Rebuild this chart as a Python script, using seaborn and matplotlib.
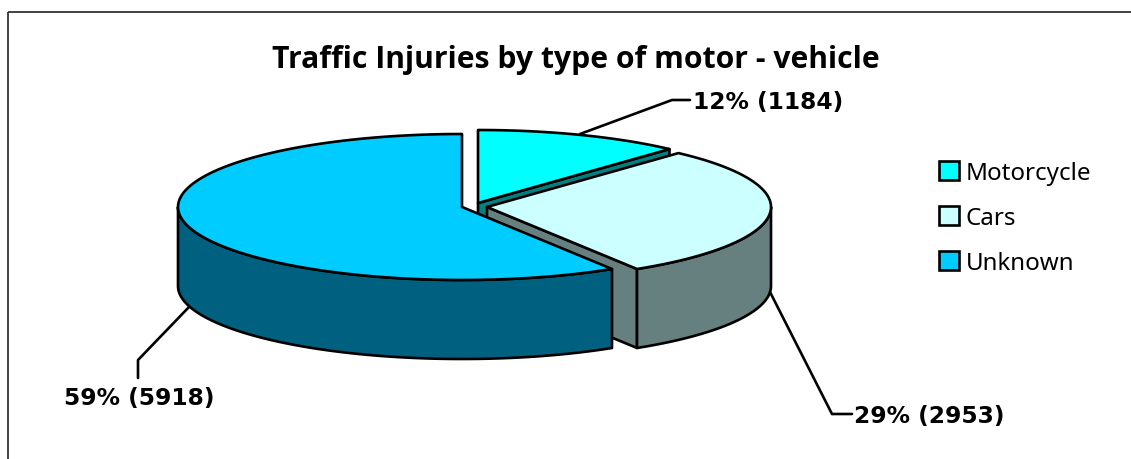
import numpy as np
import matplotlib
matplotlib.use('Agg')
import matplotlib.pyplot as plt
from matplotlib.patches import Patch, Polygon, Rectangle
import seaborn as sns

categories = ['Motorcycle', 'Cars', 'Unknown']
counts = [1184, 2953, 5918]
percent_labels = ['12%', '29%', '59%']

top_colors = ['#00FFFF', '#CCFFFF', '#00CCFF']
side_colors = ['#008080', '#668080', '#006080']

RX, RY, DEPTH = 284, 73, 79
# exploded slice centres, in pixels
centers = [(478, 204), (487, 208), (462, 208)]


def ellipse_pts(cx, cy, a1, a2, n=120):
    t = np.radians(np.linspace(a1, a2, n))
    return np.column_stack([cx + RX * np.cos(t), cy - RY * np.sin(t)])


def draw_slice(ax, center, a1, a2, top, side):
    """a1 > a2, going clockwise on the pie."""
    cx, cy = center
    edge = dict(edgecolor='black', linewidth=1.9, joinstyle='round')
    # flat cut face at the clockwise end
    end = ellipse_pts(cx, cy, a2, a2, 1)[0]
    face = [(cx, cy), tuple(end), (end[0], end[1] + DEPTH), (cx, cy + DEPTH)]
    if np.cos(np.radians(a2)) > 0 and np.sin(np.radians(a2)) != 0:
        ax.add_patch(Polygon(face, closed=True, facecolor=side, **edge))
    # outer wall, only the part facing the viewer
    lo, hi = min(a1, a2), max(a1, a2)
    for shift in (-360, 0):
        w1, w2 = max(lo, 180 + shift), min(hi, 360 + shift)
        if w2 > w1:
            rim = ellipse_pts(cx, cy, w1, w2)
            wall = np.vstack([rim, rim[::-1] + [0, DEPTH]])
            ax.add_patch(Polygon(wall, closed=True, facecolor=side, **edge))
    arc = ellipse_pts(cx, cy, a1, a2)
    ax.add_patch(Polygon(np.vstack([[cx, cy], arc]), closed=True, facecolor=top, **edge))


sns.set_theme(style='white')
plt.rcParams['font.family'] = ['DejaVu Sans']
plt.rcParams['legend.labelcolor'] = 'black'

fig = plt.figure(figsize=(11.31, 4.6), dpi=100)
ax = fig.add_axes([0, 0, 1, 1])
ax.set_xlim(0, 1131)
ax.set_ylim(460, 0)
ax.axis('off')

# chart border runs off the right and bottom of the image
ax.add_patch(Rectangle((8, 12.5), 1200, 500, fill=False, edgecolor='#333333', linewidth=1.3))

shares = np.array(counts) / sum(counts)
angles = 90 - np.concatenate([[0], np.cumsum(shares)]) * 360
for i in range(len(counts)):
    draw_slice(ax, centers[i], angles[i], angles[i + 1], top_colors[i], side_colors[i])

ax.text(576, 60, 'Traffic Injuries by type of motor - vehicle', ha='center', va='center',
        fontsize=21.7, fontweight='bold', family='Open Sans', color='black')

# leader lines and data labels
leaders = [[(580, 135), (672, 101), (690, 101)],
           [(770, 293), (832, 415), (852, 415)],
           [(189, 308), (138, 361), (138, 379)]]
label_pos = [(693, 102, 'left'), (854, 417, 'left'), (64, 399, 'left')]
for i in range(len(counts)):
    xs, ys = zip(*leaders[i])
    ax.plot(xs, ys, color='black', linewidth=1.9)
    x, y, ha = label_pos[i]
    ax.text(x, y, f'{percent_labels[i]} ({counts[i]})', ha=ha, va='center',
            fontsize=16.8, fontweight='bold', color='black')

handles = [Patch(facecolor=c, edgecolor='black', linewidth=1.9) for c in top_colors]
ax.legend(handles, categories, loc='center left', bbox_to_anchor=(939 / 1131, 1 - 219 / 460),
          frameon=False, prop={'size': 17.4, 'family': 'Noto Sans'}, handlelength=0.82, handleheight=0.82,
          handletextpad=0.28, labelspacing=0.88, borderpad=0, borderaxespad=0)

fig.savefig('out.png', dpi=100)
